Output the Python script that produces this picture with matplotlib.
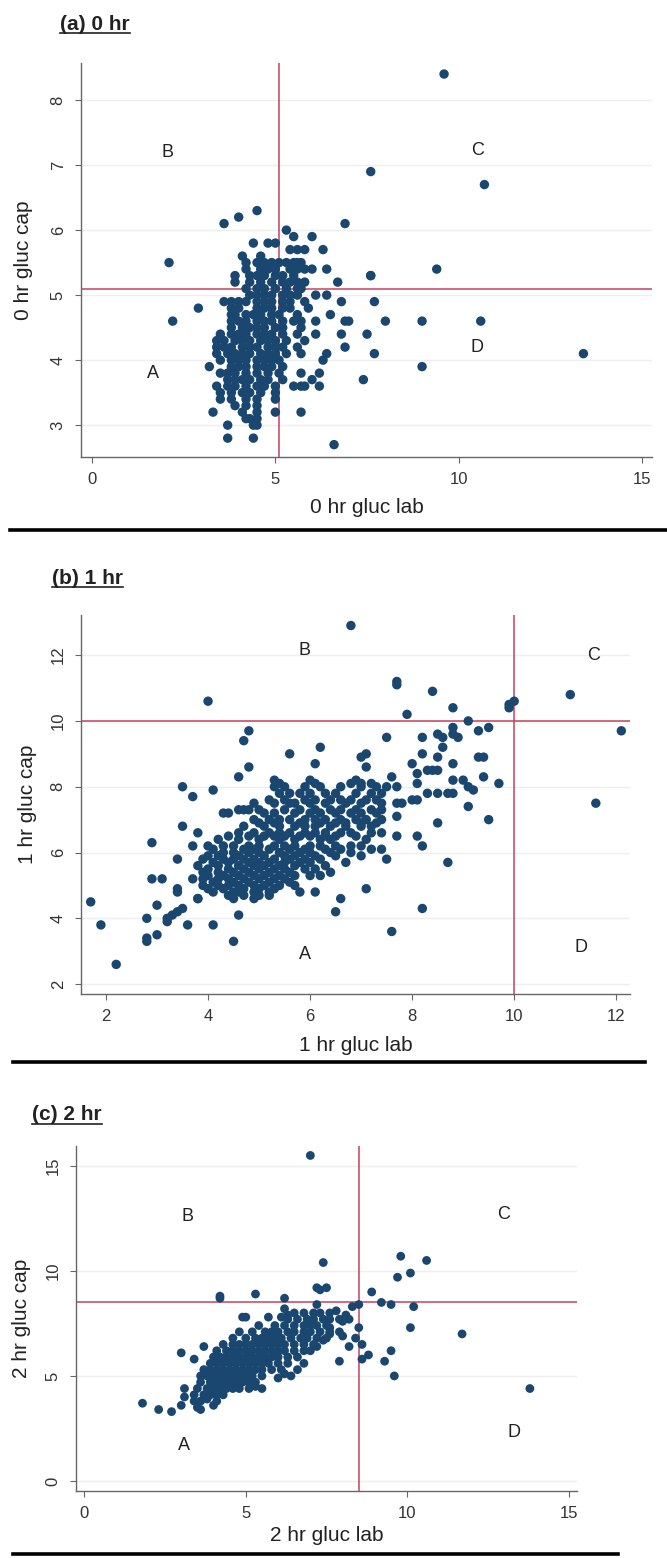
import numpy as np
import matplotlib
matplotlib.use('Agg')
import matplotlib.pyplot as plt
from matplotlib.lines import Line2D

plt.rcParams['font.family'] = ['Liberation Sans', 'DejaVu Sans']

# (lab, cap) glucose pairs
pts_0hr = [
    (9.6, 8.4), (7.6, 6.9), (10.7, 6.7), (6.9, 6.1), (4.5, 6.3), (4.0, 6.2), (3.6, 6.1),
    (2.1, 5.5), (9.4, 5.4), (7.6, 5.3), (6.7, 5.2), (2.9, 4.8), (2.2, 4.6), (7.7, 4.9),
    (6.8, 4.9), (8.0, 4.6), (9.0, 4.6), (10.6, 4.6), (6.9, 4.6), (7.0, 4.6), (6.5, 4.7),
    (7.5, 4.4), (6.8, 4.4), (7.7, 4.1), (13.4, 4.1), (9.0, 3.9), (7.4, 3.7), (6.6, 2.7),
    (5.7, 3.2), (3.3, 3.2), (3.7, 3.0), (3.7, 2.8), (4.4, 2.8), (6.4, 5.4), (7.6, 5.3),
    (5.3, 6.0), (5.5, 5.9), (6.0, 5.9),
    (4.4, 5.8), (4.8, 5.8), (5.0, 5.8),
    (5.4, 5.7), (5.6, 5.7), (5.8, 5.7), (6.3, 5.7),
    (4.1, 5.6), (4.6, 5.6),
    (4.2, 5.5), (4.5, 5.5), (4.7, 5.5), (4.9, 5.5), (5.1, 5.5), (5.3, 5.5), (5.5, 5.5), (5.6, 5.5), (5.7, 5.5),
    (4.2, 5.4), (4.6, 5.4), (4.8, 5.4), (5.0, 5.4), (5.4, 5.4), (5.6, 5.4), (5.8, 5.4), (6.0, 5.4),
    (3.9, 5.3), (4.3, 5.3), (4.5, 5.3), (4.7, 5.3), (5.0, 5.3), (5.2, 5.3), (5.5, 5.3),
    (3.9, 5.2), (4.3, 5.2), (4.6, 5.2), (4.9, 5.2), (5.2, 5.2), (5.4, 5.2), (5.6, 5.2), (5.8, 5.2),
    (4.2, 5.1), (4.5, 5.1), (4.7, 5.1), (5.0, 5.1), (5.3, 5.1), (5.6, 5.1), (5.7, 5.1),
    (4.3, 5.0), (4.5, 5.0), (4.7, 5.0), (4.9, 5.0), (5.2, 5.0), (5.4, 5.0), (5.6, 5.0), (6.1, 5.0), (6.4, 5.0),
    (3.6, 4.9), (3.8, 4.9), (4.0, 4.9), (4.2, 4.9), (4.5, 4.9), (4.7, 4.9), (4.9, 4.9), (5.2, 4.9), (5.4, 4.9), (5.8, 4.9),
    (3.8, 4.8), (4.0, 4.8), (4.5, 4.8), (4.7, 4.8), (4.9, 4.8), (5.2, 4.8), (5.4, 4.8), (5.9, 4.8),
    (3.8, 4.7), (3.9, 4.7), (4.2, 4.7), (4.4, 4.7), (4.6, 4.7), (4.9, 4.7), (5.1, 4.7), (5.6, 4.7),
    (3.8, 4.6), (4.0, 4.6), (4.2, 4.6), (4.5, 4.6), (4.7, 4.6), (4.9, 4.6), (5.2, 4.6), (5.5, 4.6), (5.7, 4.6), (6.1, 4.6),
    (3.8, 4.5), (4.1, 4.5), (4.3, 4.5), (4.5, 4.5), (4.7, 4.5), (5.0, 4.5), (5.2, 4.5), (5.7, 4.5),
    (3.5, 4.4), (3.8, 4.4), (4.0, 4.4), (4.2, 4.4), (4.5, 4.4), (4.7, 4.4), (4.9, 4.4), (5.2, 4.4), (5.6, 4.4), (6.1, 4.4),
    (3.4, 4.3), (3.6, 4.3), (3.9, 4.3), (4.1, 4.3), (4.3, 4.3), (4.6, 4.3), (4.8, 4.3), (5.0, 4.3), (5.3, 4.3), (5.8, 4.3),
    (3.4, 4.2), (3.6, 4.2), (3.8, 4.2), (4.1, 4.2), (4.3, 4.2), (4.5, 4.2), (4.8, 4.2), (5.0, 4.2), (5.2, 4.2), (5.6, 4.2), (6.9, 4.2),
    (3.4, 4.1), (3.7, 4.1), (3.9, 4.1), (4.1, 4.1), (4.3, 4.1), (4.6, 4.1), (4.8, 4.1), (5.0, 4.1), (5.3, 4.1), (5.7, 4.1), (6.4, 4.1),
    (3.5, 4.0), (3.8, 4.0), (4.0, 4.0), (4.2, 4.0), (4.5, 4.0), (4.7, 4.0), (4.9, 4.0), (5.1, 4.0), (6.3, 4.0),
    (3.2, 3.9), (3.8, 3.9), (4.0, 3.9), (4.2, 3.9), (4.5, 3.9), (4.7, 3.9), (4.9, 3.9), (5.2, 3.9),
    (3.5, 3.8), (3.7, 3.8), (3.9, 3.8), (4.2, 3.8), (4.5, 3.8), (4.8, 3.8), (5.1, 3.8), (5.7, 3.8), (6.2, 3.8),
    (3.7, 3.7), (3.9, 3.7), (4.1, 3.7), (4.3, 3.7), (4.6, 3.7), (4.8, 3.7), (5.2, 3.7), (6.0, 3.7),
    (3.4, 3.6), (3.7, 3.6), (3.9, 3.6), (4.2, 3.6), (4.5, 3.6), (4.7, 3.6), (5.0, 3.6), (5.5, 3.6), (5.7, 3.6), (5.8, 3.6), (6.2, 3.6),
    (3.5, 3.5), (3.8, 3.5), (4.1, 3.5), (4.3, 3.5), (4.6, 3.5), (5.0, 3.5),
    (3.5, 3.4), (3.8, 3.4), (4.2, 3.4), (4.5, 3.4), (5.0, 3.4),
    (3.9, 3.3), (4.2, 3.3), (4.5, 3.3),
    (4.1, 3.2), (4.5, 3.2), (5.0, 3.2),
    (4.2, 3.1), (4.3, 3.1), (4.5, 3.1),
    (4.4, 3.0), (4.5, 3.0),
]

pts_1hr = [
    (6.8, 12.9), (7.7, 11.2), (7.7, 11.1), (8.4, 10.9), (4.0, 10.6), (11.1, 10.8), (10.0, 10.6),
    (9.9, 10.5), (9.9, 10.4), (8.8, 10.4), (7.9, 10.2), (9.1, 10.0), (12.1, 9.7), (9.3, 9.7),
    (9.5, 9.8), (8.8, 9.8), (8.8, 9.6), (8.9, 9.5), (8.6, 9.5), (8.5, 9.6), (8.2, 9.5), (7.5, 9.5),
    (4.8, 9.7), (4.7, 9.4), (6.2, 9.2), (5.6, 9.0), (7.1, 9.0), (7.0, 8.9), (8.2, 9.0), (8.6, 9.2),
    (8.5, 8.9), (9.3, 8.9), (9.4, 8.9), (8.8, 8.7), (8.0, 8.7), (6.1, 8.7), (4.8, 8.6), (7.1, 8.6),
    (8.4, 8.5), (8.5, 8.5), (8.1, 8.4), (9.4, 8.3), (4.6, 8.3), (9.7, 8.1), (9.0, 8.2), (8.8, 8.2),
    (9.1, 8.0), (9.2, 7.9), (8.5, 7.8), (8.7, 7.8), (8.8, 7.8), (8.3, 7.8), (8.0, 7.6), (9.1, 7.4),
    (11.6, 7.5), (9.5, 7.0), (8.5, 6.9), (8.2, 6.2), (8.1, 6.5), (8.7, 5.7), (7.1, 4.9), (8.2, 4.3),
    (7.6, 3.6), (6.6, 4.6), (6.5, 4.2), (6.7, 5.7), (6.1, 4.8), (5.8, 4.8), (4.5, 3.3), (4.6, 4.1),
    (4.1, 3.8), (3.6, 3.8), (3.5, 4.3), (3.4, 4.2), (3.3, 4.1), (3.2, 3.9), (3.2, 4.0), (3.4, 4.9),
    (3.4, 4.8), (3.0, 4.4), (3.0, 3.5), (2.8, 3.4), (2.8, 3.3), (2.8, 4.0), (2.2, 2.6), (1.9, 3.8),
    (1.7, 4.5), (2.9, 6.3), (2.9, 5.2), (3.1, 5.2), (3.4, 5.8), (3.5, 6.8), (3.5, 8.0), (3.7, 7.7),
    (4.1, 7.9), (4.3, 7.2), (3.8, 6.6), (3.7, 6.2), (3.7, 5.2), (3.8, 4.6), (7.7, 7.5), (7.8, 7.5),
    (7.7, 7.1), (7.7, 6.5), (7.5, 5.8), (7.4, 6.1), (8.1, 7.6), (8.3, 8.5), (8.1, 8.1), (7.6, 8.3),
    (7.7, 8.0), (7.5, 8.0), (6.2, 5.3), (6.0, 5.3), (6.4, 5.4), (4.6, 7.3), (4.7, 7.3), (5.6, 7.5),
    (5.3, 8.2), (6.0, 8.2), (6.9, 8.2),
    (5.4, 8.1), (6.1, 8.1), (6.8, 8.1), (7.0, 8.1), (7.2, 8.1),
    (5.3, 8.0), (5.5, 8.0), (5.9, 8.0), (6.2, 8.0), (6.6, 8.0), (7.0, 8.0), (7.3, 8.0),
    (5.4, 7.8), (5.6, 7.8), (5.8, 7.8), (6.0, 7.8), (6.3, 7.8), (6.5, 7.8), (6.9, 7.8), (7.2, 7.8), (7.4, 7.8),
    (5.2, 7.6), (5.5, 7.6), (5.9, 7.6), (6.1, 7.6), (6.4, 7.6), (6.6, 7.6), (6.8, 7.6), (7.1, 7.6), (7.3, 7.6),
    (4.9, 7.5), (5.3, 7.5), (5.7, 7.5), (6.0, 7.5), (6.3, 7.5), (6.7, 7.5), (7.0, 7.5), (7.4, 7.5),
    (4.8, 7.3), (5.0, 7.3), (5.5, 7.3), (5.8, 7.3), (6.1, 7.3), (6.4, 7.3), (6.6, 7.3), (6.9, 7.3), (7.2, 7.3), (7.4, 7.3),
    (4.4, 7.2), (5.1, 7.2), (5.3, 7.2), (5.7, 7.2), (6.0, 7.2), (6.2, 7.2), (6.5, 7.2), (6.8, 7.2), (7.0, 7.2), (7.3, 7.2),
    (4.9, 7.0), (5.2, 7.0), (5.4, 7.0), (5.6, 7.0), (5.9, 7.0), (6.1, 7.0), (6.3, 7.0), (6.6, 7.0), (6.9, 7.0), (7.1, 7.0), (7.4, 7.0),
    (5.0, 6.9), (5.3, 6.9), (5.8, 6.9), (6.2, 6.9), (6.5, 6.9), (6.7, 6.9), (7.0, 6.9), (7.3, 6.9),
    (4.7, 6.8), (5.1, 6.8), (5.4, 6.8), (5.7, 6.8), (5.9, 6.8), (6.1, 6.8), (6.4, 6.8), (6.7, 6.8), (7.0, 6.8), (7.2, 6.8),
    (4.6, 6.6), (4.9, 6.6), (5.2, 6.6), (5.4, 6.6), (5.6, 6.6), (5.9, 6.6), (6.1, 6.6), (6.3, 6.6), (6.6, 6.6), (6.8, 6.6), (7.2, 6.6), (7.4, 6.6),
    (4.4, 6.5), (4.8, 6.5), (5.1, 6.5), (5.3, 6.5), (5.5, 6.5), (5.8, 6.5), (6.0, 6.5), (6.3, 6.5), (6.5, 6.5), (6.9, 6.5),
    (4.2, 6.4), (4.6, 6.4), (5.0, 6.4), (5.4, 6.4), (5.7, 6.4), (6.2, 6.4), (6.4, 6.4), (7.1, 6.4),
    (4.0, 6.2), (4.3, 6.2), (4.5, 6.2), (4.8, 6.2), (5.0, 6.2), (5.3, 6.2), (5.5, 6.2), (5.7, 6.2), (6.0, 6.2), (6.2, 6.2), (6.5, 6.2), (6.8, 6.2), (7.0, 6.2),
    (4.1, 6.1), (4.7, 6.1), (4.9, 6.1), (5.2, 6.1), (5.6, 6.1), (5.9, 6.1), (6.3, 6.1), (6.6, 6.1), (7.2, 6.1),
    (4.3, 6.0), (4.5, 6.0), (4.8, 6.0), (5.0, 6.0), (5.4, 6.0), (5.8, 6.0), (6.0, 6.0), (6.4, 6.0), (6.8, 6.0),
    (4.0, 5.9), (4.2, 5.9), (4.6, 5.9), (5.1, 5.9), (5.5, 5.9), (5.7, 5.9), (6.1, 5.9), (6.5, 5.9), (7.0, 5.9),
    (3.9, 5.8), (4.3, 5.8), (4.5, 5.8), (4.7, 5.8), (4.9, 5.8), (5.3, 5.8), (5.6, 5.8), (5.9, 5.8), (6.2, 5.8),
    (4.1, 5.7), (4.4, 5.7), (4.8, 5.7), (5.0, 5.7), (5.2, 5.7), (5.5, 5.7), (5.8, 5.7), (6.0, 5.7),
    (3.8, 5.6), (4.2, 5.6), (4.6, 5.6), (4.9, 5.6), (5.1, 5.6), (5.4, 5.6), (5.7, 5.6), (6.3, 5.6),
    (4.0, 5.5), (4.4, 5.5), (4.7, 5.5), (5.0, 5.5), (5.3, 5.5), (5.5, 5.5), (5.9, 5.5), (6.1, 5.5),
    (3.9, 5.4), (4.2, 5.4), (4.5, 5.4), (4.8, 5.4), (5.2, 5.4), (5.6, 5.4),
    (4.0, 5.3), (4.3, 5.3), (4.6, 5.3), (4.9, 5.3), (5.1, 5.3), (5.4, 5.3), (5.7, 5.3),
    (3.9, 5.2), (4.2, 5.2), (4.4, 5.2), (4.7, 5.2), (5.0, 5.2), (5.3, 5.2), (5.5, 5.2),
    (4.1, 5.1), (4.5, 5.1), (4.8, 5.1), (5.2, 5.1), (5.6, 5.1),
    (3.9, 5.0), (4.2, 5.0), (4.4, 5.0), (4.6, 5.0), (4.9, 5.0), (5.1, 5.0), (5.4, 5.0), (5.7, 5.0),
    (4.0, 4.9), (4.3, 4.9), (4.7, 4.9), (5.0, 4.9), (5.3, 4.9),
    (4.1, 4.8), (4.5, 4.8), (4.6, 4.8), (4.9, 4.8), (5.2, 4.8),
    (4.4, 4.7), (4.7, 4.7), (5.0, 4.7), (5.2, 4.7),
    (3.8, 4.6), (4.5, 4.6), (4.9, 4.6),
]

pts_2hr = [
    (7.0, 15.5), (9.8, 10.7), (10.6, 10.5), (7.4, 10.4), (10.1, 9.9), (9.7, 9.7), (7.2, 9.2),
    (7.5, 9.2), (7.3, 9.1), (8.9, 9.0), (5.3, 8.9), (4.2, 8.8), (4.2, 8.7), (6.2, 8.7), (9.2, 8.5),
    (9.5, 8.4), (10.2, 8.3), (8.5, 8.4), (8.3, 8.3), (7.2, 8.4), (6.2, 8.2), (10.1, 7.3), (11.7, 7.0),
    (8.5, 7.3), (8.4, 6.8), (8.2, 6.4), (8.6, 6.5), (8.8, 6.0), (8.6, 5.8), (9.5, 6.2), (9.3, 5.7),
    (9.6, 5.0), (13.8, 4.4), (7.9, 5.7), (8.0, 6.9), (7.9, 7.1), (3.0, 6.1), (1.8, 3.7), (2.3, 3.4),
    (2.7, 3.3), (3.0, 3.6), (3.1, 4.0), (3.1, 4.4), (3.4, 3.8), (3.5, 3.5), (3.6, 3.4), (3.7, 6.4),
    (3.4, 5.8), (5.5, 4.4), (4.9, 7.8), (5.0, 7.8), (5.7, 7.8), (6.4, 5.0), (7.8, 8.1), (7.6, 8.0),
    (8.0, 7.6), (8.1, 7.9), (8.2, 7.7), (7.9, 7.7), (6.6, 5.3), (6.8, 5.6), (4.0, 3.6), (3.8, 3.9),
    (5.1, 4.4), (5.3, 4.5), (6.0, 4.9), (6.2, 5.1), (6.1, 7.8), (6.3, 7.9), (7.0, 6.2), (7.2, 6.4),
    (7.4, 6.7), (7.6, 7.0), (7.6, 7.3),
    (6.5, 8.0), (6.8, 8.0), (7.1, 8.0), (7.3, 8.0),
    (6.3, 7.7), (6.6, 7.7), (6.9, 7.7), (7.1, 7.7), (7.4, 7.7), (7.6, 7.7),
    (5.4, 7.4), (5.9, 7.4), (6.2, 7.4), (6.5, 7.4), (6.8, 7.4), (7.0, 7.4), (7.2, 7.4), (7.5, 7.4),
    (4.8, 7.1), (5.2, 7.1), (5.6, 7.1), (5.8, 7.1), (6.0, 7.1), (6.3, 7.1), (6.5, 7.1), (6.8, 7.1), (7.0, 7.1), (7.3, 7.1), (7.6, 7.1),
    (4.6, 6.8), (5.0, 6.8), (5.3, 6.8), (5.5, 6.8), (5.7, 6.8), (5.9, 6.8), (6.1, 6.8), (6.4, 6.8), (6.7, 6.8), (6.9, 6.8), (7.2, 6.8), (7.5, 6.8),
    (4.3, 6.5), (4.6, 6.5), (4.8, 6.5), (5.0, 6.5), (5.2, 6.5), (5.4, 6.5), (5.6, 6.5), (5.8, 6.5), (6.0, 6.5), (6.2, 6.5), (6.5, 6.5), (6.8, 6.5), (7.1, 6.5),
    (4.1, 6.2), (4.4, 6.2), (4.6, 6.2), (4.8, 6.2), (5.0, 6.2), (5.2, 6.2), (5.4, 6.2), (5.6, 6.2), (5.8, 6.2), (6.0, 6.2), (6.2, 6.2), (6.5, 6.2), (6.8, 6.2),
    (4.0, 5.9), (4.2, 5.9), (4.4, 5.9), (4.6, 5.9), (4.8, 5.9), (5.0, 5.9), (5.2, 5.9), (5.4, 5.9), (5.6, 5.9), (5.8, 5.9), (6.0, 5.9), (6.3, 5.9), (6.6, 5.9),
    (3.9, 5.6), (4.1, 5.6), (4.3, 5.6), (4.5, 5.6), (4.7, 5.6), (4.9, 5.6), (5.1, 5.6), (5.3, 5.6), (5.5, 5.6), (5.7, 5.6), (6.0, 5.6), (6.3, 5.6),
    (3.7, 5.3), (3.9, 5.3), (4.1, 5.3), (4.3, 5.3), (4.5, 5.3), (4.7, 5.3), (4.9, 5.3), (5.1, 5.3), (5.3, 5.3), (5.5, 5.3), (5.8, 5.3), (6.1, 5.3),
    (3.6, 5.0), (3.8, 5.0), (4.0, 5.0), (4.2, 5.0), (4.4, 5.0), (4.6, 5.0), (4.8, 5.0), (5.0, 5.0), (5.2, 5.0), (5.5, 5.0),
    (3.6, 4.7), (3.9, 4.7), (4.1, 4.7), (4.3, 4.7), (4.5, 4.7), (4.7, 4.7), (4.9, 4.7), (5.1, 4.7), (5.3, 4.7),
    (3.5, 4.4), (3.8, 4.4), (4.0, 4.4), (4.2, 4.4), (4.4, 4.4), (4.6, 4.4), (4.8, 4.4),
    (3.4, 4.1), (3.7, 4.1), (3.9, 4.1), (4.1, 4.1), (4.3, 4.1),
    (3.6, 3.8), (4.1, 3.8),
]

cutoffs = [5.1, 10.0, 8.5]
titles = ['(a) 0 hr', '(b) 1 hr', '(c) 2 hr']
xlabels = ['0 hr gluc lab', '1 hr gluc lab', '2 hr gluc lab']
ylabels = ['0 hr gluc cap', '1 hr gluc cap', '2 hr gluc cap']
xticks = [[0, 5, 10, 15], [2, 4, 6, 8, 10, 12], [0, 5, 10, 15]]
yticks = [[3, 4, 5, 6, 7, 8], [2, 4, 6, 8, 10, 12], [0, 5, 10, 15]]
zone_names = ['A', 'B', 'C', 'D']
zone_xy = [
    [(1.65, 3.8), (2.05, 7.2), (10.5, 7.22), (10.5, 4.2)],
    [(5.9, 2.9), (5.9, 12.15), (11.55, 12.0), (11.3, 3.1)],
    [(3.1, 1.7), (3.2, 12.6), (13.0, 12.7), (13.3, 2.3)],
]

W, H = 667, 1558
NAVY = '#1a476f'
RED = '#c8405f'

fig = plt.figure(figsize=(W / 100, H / 100), dpi=100)
fig.patch.set_facecolor('white')

# axes boxes in pixels (left, top, right, bottom) and limits
boxes = [(81, 63, 652, 457), (81, 615, 630, 994), (76, 1146, 577, 1491)]
xlims = [(-0.30, 15.27), (1.51, 12.27), (-0.26, 15.26)]
ylims = [(2.51, 8.57), (1.70, 13.22), (-0.48, 15.95)]
ylab_x = [-0.10, -0.097, -0.108]
xlab_y = [-0.127, -0.135, -0.128]
title_pos = [(60, 24), (52, 578), (32, 1115)]
marker_s = [46, 46, 40]

all_pts = [pts_0hr, pts_1hr, pts_2hr]

for i in range(3):
    l, t, r, b = boxes[i]
    ax = fig.add_axes([l / W, 1 - b / H, (r - l) / W, (b - t) / H])
    pts = np.array(all_pts[i])
    ax.scatter(pts[:, 0], pts[:, 1], s=marker_s[i], color=NAVY, edgecolors='none', zorder=3)
    ax.axvline(cutoffs[i], color=RED, lw=1.1, zorder=2)
    ax.axhline(cutoffs[i], color=RED, lw=1.1, zorder=2)
    for name, (zx, zy) in zip(zone_names, zone_xy[i]):
        ax.text(zx, zy, name, fontsize=13, color='#222222', ha='center', va='center', zorder=4)

    ax.set_xlim(*xlims[i])
    ax.set_ylim(*ylims[i])
    ax.set_xticks(xticks[i])
    ax.set_yticks(yticks[i])
    ax.yaxis.grid(True, color='#eeeeee', lw=1.0)
    ax.set_axisbelow(True)
    for s in ['top', 'right']:
        ax.spines[s].set_visible(False)
    for s in ['left', 'bottom']:
        ax.spines[s].set_color('#666666')
        ax.spines[s].set_linewidth(1.0)
    ax.tick_params(direction='out', length=4, width=0.8, color='#666666',
                   labelsize=12, labelcolor='#333333')
    ax.tick_params(axis='x', pad=7)
    ax.tick_params(axis='y', pad=7)
    for lbl in ax.get_yticklabels():
        lbl.set_rotation(90)
        lbl.set_va('center')

    ax.set_xlabel(xlabels[i], fontsize=15, color='#222222')
    ax.xaxis.label.set_va('center')
    ax.xaxis.set_label_coords(0.5, xlab_y[i])
    ax.set_ylabel(ylabels[i], fontsize=15, color='#222222')
    ax.yaxis.label.set_va('center')
    ax.yaxis.set_label_coords(ylab_x[i], 0.5)

# bold underlined panel titles
renderer = fig.canvas.get_renderer()
for (tx, ty), title in zip(title_pos, titles):
    txt = fig.text(tx / W, 1 - ty / H, title, fontsize=15, fontweight='bold',
                   color='#222222', ha='left', va='center')
    bb = txt.get_window_extent(renderer=renderer)
    uy = (bb.y0 + 1) / H
    fig.add_artist(Line2D([bb.x0 / W, bb.x1 / W], [uy, uy], color='#222222', lw=1.2))

# heavy rules under each panel
for x0, x1, y in [(10, 667, 530), (13, 645, 1062), (13, 618, 1554)]:
    fig.add_artist(Line2D([x0 / W, x1 / W], [1 - y / H, 1 - y / H], color='black', lw=2.6))

fig.savefig('out.png', dpi=100, facecolor='white')
